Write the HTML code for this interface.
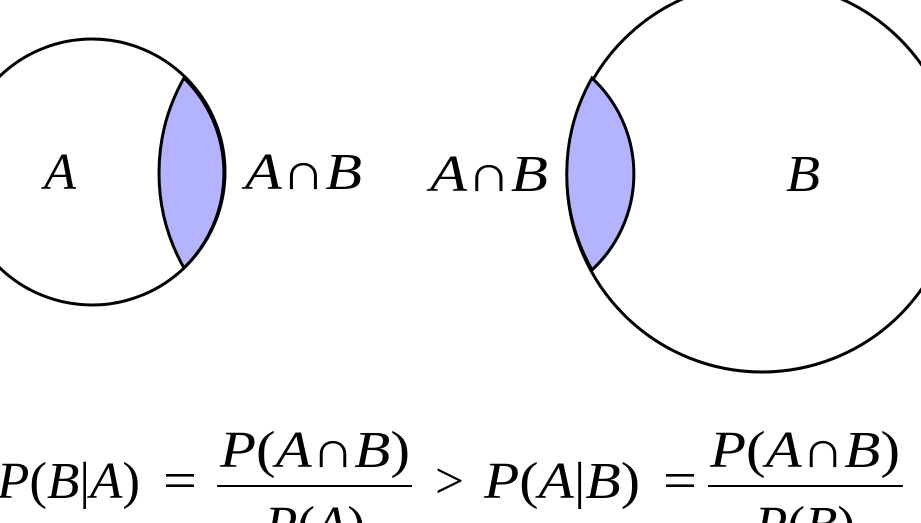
<!DOCTYPE html>
<html><head><meta charset="utf-8"><style>
html,body{margin:0;padding:0;background:#fff;width:921px;height:523px;overflow:hidden}
svg{display:block}
</style></head><body>
<svg width="921" height="523" viewBox="0 0 921 523" xmlns="http://www.w3.org/2000/svg" font-family="'Liberation Serif', serif" font-size="52">
<circle cx="92" cy="172" r="133" fill="#fff" stroke="#000" stroke-width="3"/>
<path d="M184,78 A193,193 0 0 0 184,268 A133,133 0 0 0 184,78 Z" fill="#b3b3ff" stroke="#000" stroke-width="3"/>
<circle cx="762" cy="177" r="195" fill="none" stroke="#000" stroke-width="3"/>
<path d="M592,78 A131,131 0 0 1 592,270 A195,195 0 0 1 592,78 Z" fill="#b3b3ff" stroke="#000" stroke-width="3"/>
<g font-style="italic">
<text x="44" y="189" textLength="32" lengthAdjust="spacingAndGlyphs">A</text>
<text x="786" y="191" textLength="34" lengthAdjust="spacingAndGlyphs">B</text>
</g>
<text x="245" y="189" textLength="117" lengthAdjust="spacingAndGlyphs"><tspan font-style="italic">A</tspan>∩<tspan font-style="italic">B</tspan></text>
<text x="430" y="191" textLength="118" lengthAdjust="spacingAndGlyphs"><tspan font-style="italic">A</tspan>∩<tspan font-style="italic">B</tspan></text>
<text x="-3" y="498" textLength="143" lengthAdjust="spacingAndGlyphs"><tspan font-style="italic">P</tspan>(<tspan font-style="italic">B</tspan>|<tspan font-style="italic">A</tspan>)</text>
<text x="163" y="498" textLength="34" lengthAdjust="spacingAndGlyphs">=</text>
<text x="220" y="467" textLength="190" lengthAdjust="spacingAndGlyphs"><tspan font-style="italic">P</tspan>(<tspan font-style="italic">A</tspan>∩<tspan font-style="italic">B</tspan>)</text>
<rect x="217" y="485" width="195" height="2" fill="#000"/>
<text x="265" y="542" textLength="100" lengthAdjust="spacingAndGlyphs"><tspan font-style="italic">P</tspan>(<tspan font-style="italic">A</tspan>)</text>
<text x="435" y="498" textLength="29" lengthAdjust="spacingAndGlyphs">&gt;</text>
<text x="484" y="498" textLength="156" lengthAdjust="spacingAndGlyphs"><tspan font-style="italic">P</tspan>(<tspan font-style="italic">A</tspan>|<tspan font-style="italic">B</tspan>)</text>
<text x="663" y="498" textLength="34" lengthAdjust="spacingAndGlyphs">=</text>
<text x="710" y="467" textLength="190" lengthAdjust="spacingAndGlyphs"><tspan font-style="italic">P</tspan>(<tspan font-style="italic">A</tspan>∩<tspan font-style="italic">B</tspan>)</text>
<rect x="708" y="485" width="195" height="2" fill="#000"/>
<text x="755" y="542" textLength="100" lengthAdjust="spacingAndGlyphs"><tspan font-style="italic">P</tspan>(<tspan font-style="italic">B</tspan>)</text>
</svg>
</body></html>
